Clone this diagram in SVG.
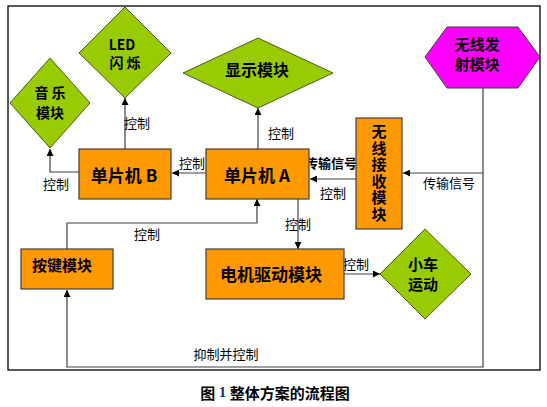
<svg xmlns="http://www.w3.org/2000/svg" width="547" height="407" viewBox="0 0 547 407">
<defs>
<marker id="ah" viewBox="0 0 10 10" refX="10" refY="5" markerWidth="7" markerHeight="7" orient="auto" markerUnits="userSpaceOnUse">
<path d="M0,0 L10,5 L0,10 z" fill="#000"/>
</marker>
<style>
.box{fill:#FF9900;stroke:#404040;stroke-width:1.2}
.dia{fill:#99CC00;stroke:#4d5a20;stroke-width:1}
.hex{fill:#FF00FF;stroke:#404040;stroke-width:1}
.nt{font-family:"Noto Sans CJK SC","Noto Sans",sans-serif;font-weight:bold;fill:#000;text-anchor:middle;dominant-baseline:central}
.lt{font-family:"Noto Sans CJK SC","Noto Sans",sans-serif;font-size:13px;fill:#000;text-anchor:middle;dominant-baseline:central}
.ln{fill:none;stroke:#404040;stroke-width:1.2}
</style>
</defs>
<rect x="0" y="0" width="547" height="407" fill="#fff"/>
<rect x="8" y="6" width="532" height="364" fill="none" stroke="#000" stroke-width="1.3"/>

<g id="connectors">
<path class="ln" d="M483,88 V367 H67 V290" marker-end="url(#ah)"/>
<path class="ln" d="M483,173 H403" marker-end="url(#ah)"/>
<path class="ln" d="M356,179 H310" marker-end="url(#ah)"/>
<path class="ln" d="M206,173 H172" marker-end="url(#ah)"/>
<path class="ln" d="M79,172 H50 V149" marker-end="url(#ah)"/>
<path class="ln" d="M125,149 V98" marker-end="url(#ah)"/>
<path class="ln" d="M258,149 V108" marker-end="url(#ah)"/>
<path class="ln" d="M298,199 V249" marker-end="url(#ah)"/>
<path class="ln" d="M67,249 V223 H257 V199" marker-end="url(#ah)"/>
<path class="ln" d="M344,274 H380" marker-end="url(#ah)"/>
<text class="lt" x="449" y="182">传输信号</text>
<text class="lt" x="331" y="162" font-weight="bold">传输信号</text>
<text class="lt" x="333" y="192">控制</text>
<text class="lt" x="192" y="162">控制</text>
<text class="lt" x="56" y="183">控制</text>
<text class="lt" x="137" y="122">控制</text>
<text class="lt" x="281" y="132">控制</text>
<text class="lt" x="298" y="223">控制</text>
<text class="lt" x="147" y="233">控制</text>
<text class="lt" x="356" y="263">控制</text>
<text class="lt" x="226" y="353">抑制并控制</text>
</g>

<g id="tx">
<polygon class="hex" points="425,57 447,27 518,27 540,57 518,88 447,88"/>
<text class="nt" font-size="15" x="477" y="43">无线发</text>
<text class="nt" font-size="15" x="477" y="63">射模块</text>
</g>

<g id="rx">
<rect class="box" x="356" y="118" width="46" height="111"/>
<text class="nt" font-size="15" x="379" y="173.5" writing-mode="vertical-rl" letter-spacing="1.5">无线接收模块</text>
</g>

<g id="mcuA">
<rect class="box" x="206" y="149" width="103" height="50"/>
<text class="nt" font-size="17" x="257" y="174">单片机 A</text>
</g>

<g id="mcuB">
<rect class="box" x="79" y="149" width="92" height="50"/>
<text class="nt" font-size="17" x="124" y="174">单片机 B</text>
</g>

<g id="music">
<polygon class="dia" points="10,103 50,58 90,103 50,148"/>
<text class="nt" font-size="14" x="50" y="92">音 乐</text>
<text class="nt" font-size="14" x="50" y="112">模块</text>
</g>

<g id="led">
<polygon class="dia" points="79,53 125,7 171,53 125,98"/>
<text class="nt" font-size="14" x="122" y="44" font-family="Liberation Serif,serif">LED</text>
<text class="nt" font-size="14" x="125" y="62">闪 烁</text>
</g>

<g id="display">
<polygon class="dia" points="183,73 258,38 333,73 258,108"/>
<text class="nt" font-size="16" x="257" y="69">显示模块</text>
</g>

<g id="keys">
<rect class="box" x="21" y="249" width="92" height="40"/>
<text class="nt" font-size="15" x="62" y="264">按键模块</text>
</g>

<g id="motor">
<rect class="box" x="206" y="249" width="138" height="50"/>
<text class="nt" font-size="17" x="271" y="273">电机驱动模块</text>
</g>

<g id="car">
<polygon class="dia" points="380,274 425,229 471,274 425,319"/>
<text class="nt" font-size="15" x="423" y="263">小车</text>
<text class="nt" font-size="15" x="423" y="283">运动</text>
</g>

<text x="275" y="392" font-family="Noto Sans CJK SC,sans-serif" font-weight="bold" font-size="15" text-anchor="middle" dominant-baseline="central">图 <tspan fill="#1f2f7a" font-family="Liberation Serif,serif">1</tspan> 整体方案的流程图</text>
</svg>
